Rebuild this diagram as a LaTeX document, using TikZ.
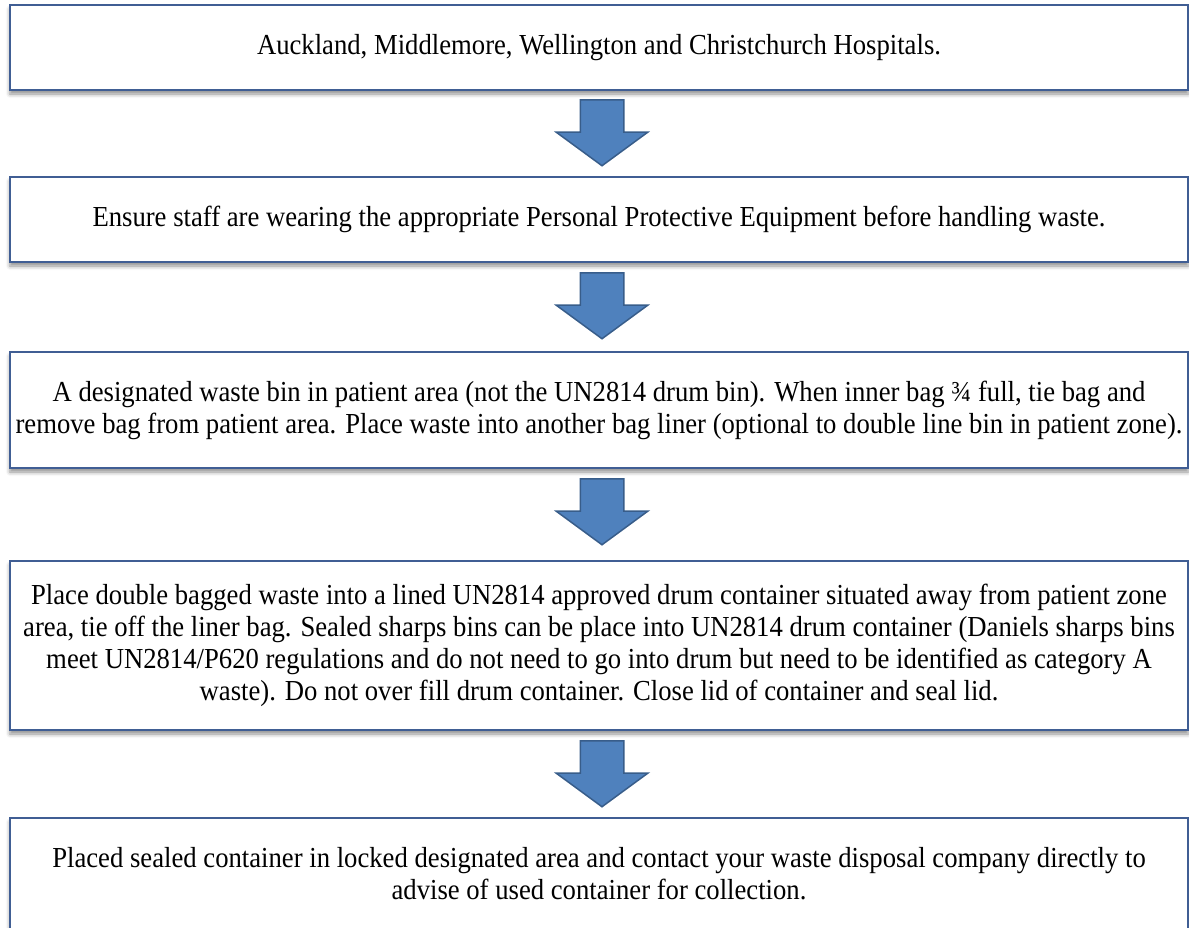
\documentclass[tikz,border=0pt]{standalone}
\usepackage{fontspec}
\setmainfont{Liberation Serif}[FakeStretch=0.92]
\usepackage{xcolor}
\usetikzlibrary{positioning,calc,shapes.arrows,shadows.blur}
\definecolor{boxline}{RGB}{64,94,148}
\definecolor{arrowfill}{RGB}{79,129,189}
\definecolor{arrowline}{RGB}{56,93,138}

\begin{document}
\begin{tikzpicture}[x=1pt, y=-1pt,
  box/.style={draw=boxline, line width=2pt, fill=white, align=center, inner sep=0pt,
    minimum width=1178pt, font=\fontsize{29}{32}\selectfont,
    blur shadow={shadow xshift=0pt, shadow yshift=-4pt, shadow blur radius=4pt,
      shadow opacity=45}},
  downarrow/.style={single arrow, rotate=-90, anchor=tail, draw=arrowline, line width=1.5pt,
    fill=arrowfill, inner xsep=0pt, inner ysep=21pt, minimum height=66pt,
    single arrow head extend=24pt, single arrow tip angle=107.5}]
\useasboundingbox (0,0) rectangle (1189,927);
% the five steps
\node[box, minimum height=85pt] (hosp) at (599,47.5)
  {Auckland, Middlemore, Wellington and Christchurch Hospitals.};
\node[box, minimum height=85pt] (ppe) at (599,219.5)
  {Ensure staff are wearing the appropriate Personal Protective Equipment before handling waste.};
\node[box, minimum height=116pt] (bin) at (599,410)
  {A designated waste bin in patient area (not the UN2814 drum bin). When inner bag ¾ full, tie bag and\\
   remove bag from patient area. Place waste into another bag liner (optional to double line bin in patient zone).};
\node[box, minimum height=169pt] (drum) at (599,645.5)
  {Place double bagged waste into a lined UN2814 approved drum container situated away from patient zone\\
   area, tie off the liner bag. Sealed sharps bins can be place into UN2814 drum container (Daniels sharps bins\\
   meet UN2814/P620 regulations and do not need to go into drum but need to be identified as category A\\
   waste). Do not over fill drum container. Close lid of container and seal lid.};
\node[box, minimum height=112pt] (store) at (599,874)
  {Placed sealed container in locked designated area and contact your waste disposal company directly to\\
   advise of used container for collection.};
% block arrows between the steps
\node[downarrow] (a1) at ($(hosp.south)+(3,8)$) {};
\node[downarrow] (a2) at ($(ppe.south)+(3,9)$) {};
\node[downarrow] (a3) at ($(bin.south)+(3,9)$) {};
\node[downarrow] (a4) at ($(drum.south)+(3,9)$) {};
\end{tikzpicture}
\end{document}
